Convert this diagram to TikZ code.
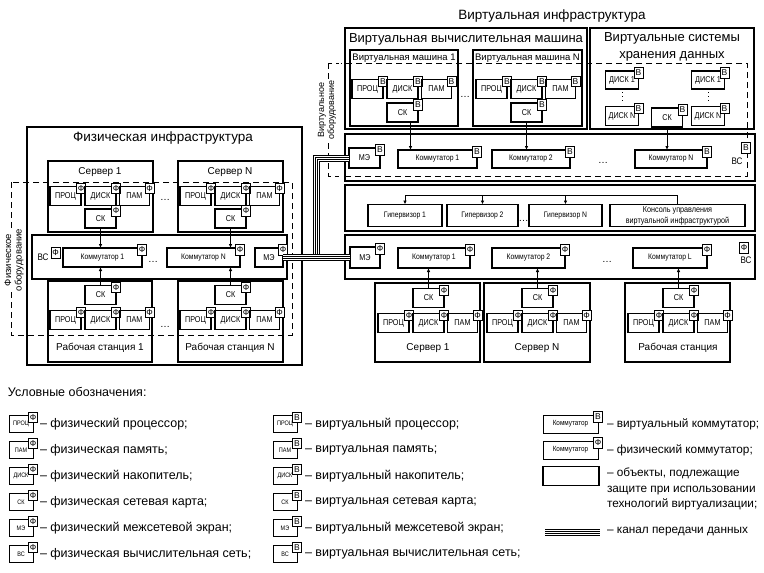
\documentclass[tikz,border=0pt]{standalone}
\usepackage{fontspec}
\setmainfont{Liberation Sans}
\newfontfamily\narr[FakeStretch=0.85]{Liberation Sans}
\usetikzlibrary{arrows.meta}
\tikzset{
  every node/.style={inner sep=0pt,outer sep=0pt},
  outerbox/.style={draw,line width=1.2pt},
  dblbox/.style={draw,line width=0.8pt,double,double distance=1.2pt},
  bigbox/.style={draw,line width=1.5pt},
  srvbox/.style={draw,line width=1.6pt},
  panelbox/.style={draw,line width=1.6pt},
  cbox/.style={draw,line width=1.2pt,font=\narr\fontsize{8.5}{9}\selectfont},
  cmbox/.style={draw,line width=1.2pt,font=\narr\fontsize{8}{10}\selectfont,align=center},
  lbox/.style={draw,line width=1pt,font=\narr\fontsize{6.5}{7}\selectfont},
  lcbox/.style={draw,line width=1pt,font=\narr\fontsize{7.5}{8}\selectfont},
  badge/.style={draw,line width=1pt,fill=white,minimum width=9pt,minimum height=10.5pt,font=\fontsize{8.5}{8.5}\selectfont},
  title/.style={font=\fontsize{13.5}{16}\selectfont},
  subtitle/.style={font=\fontsize{13}{17}\selectfont,align=center},
  lbl/.style={font=\fontsize{10}{11}\selectfont},
  vmlbl/.style={font=\fontsize{9.5}{11}\selectfont},
  sidelbl/.style={font=\fontsize{9.5}{10.5}\selectfont,align=center,rotate=90,fill=white,inner sep=1pt},
  dots/.style={font=\fontsize{10}{10}\selectfont},
  vslbl/.style={font=\narr\fontsize{9.5}{10}\selectfont},
  dashbox/.style={draw,line width=1pt,dash pattern=on 6pt off 4pt},
  arr/.style={draw,line width=1pt,-{Latex[length=4pt,width=3.5pt]}},
  conn/.style={draw,line width=1pt},
  chan/.style={draw,line width=7pt,postaction={draw=white,line width=5pt},postaction={draw=black,line width=3pt},postaction={draw=white,line width=1pt}},
  legtext/.style={anchor=west,font=\fontsize{12.5}{15.5}\selectfont,align=left},
  legtextr/.style={anchor=west,font=\fontsize{11.8}{15.5}\selectfont,align=left},
}
% component: [style] name, cx, cy, w, h, label, badge
\newcommand\cmpx[8][cbox]{%
  \node[#1,minimum width=#5pt,minimum height=#6pt] (#2) at (#3,#4) {#7};
  \node[badge] (#2b) at ([yshift=-2pt]#2.north east) {#8};}
% triad: prefix, x0, cy, badge
\newcommand\triadx[4]{%
  \cmpx{#1p}{#2+15.5}{#3}{31}{19}{ПРОЦ}{#4}
  \cmpx{#1d}{#2+50.5}{#3}{31}{19}{ДИСК}{#4}
  \cmpx{#1m}{#2+84.5}{#3}{30}{19}{ПАМ}{#4}}
\begin{document}
\begin{tikzpicture}[x=1pt,y=-1pt]
\useasboundingbox (0,0) rectangle (764,573);

% ================= LEFT: physical infrastructure
\draw[dashbox] (11,182) rectangle (292,335);
\node[sidelbl] (plbl) at (14,260) {Физическое\\оборудование};
\draw[outerbox] (27,127) rectangle (302,365);
\node[title] (ltitle) at (163,138) {Физическая инфраструктура};

\draw[srvbox] (48,161) rectangle (153,232);
\node[lbl] (ls1l) at (100,172) {Сервер 1};
\triadx{ls1}{50}{196}{Ф}
\cmpx{ls1s}{100.5}{218.5}{31}{19}{СК}{Ф}

\draw[srvbox] (178,161) rectangle (283,232);
\node[lbl] (ls2l) at (230,172) {Сервер N};
\triadx{ls2}{180}{196}{Ф}
\cmpx{ls2s}{230.5}{218.5}{31}{19}{СК}{Ф}
\node[dots] (ldots1) at (165,200) {…};

\draw[panelbox] (32,235) rectangle (287,279);
\node[vslbl] (lvs) at (43,257.5) {ВС};
\node[badge] (lvsb) at (55.5,253) {Ф};
\cmpx[cmbox]{lc1}{102.5}{257.5}{79}{19}{Коммутатор 1}{Ф}
\node[dots] (ldots2) at (153,262) {…};
\cmpx[cmbox]{lcn}{203.5}{257.5}{73}{19}{Коммутатор N}{Ф}
\cmpx{lme}{269}{257.5}{28}{19}{МЭ}{Ф}

\draw[srvbox] (48,281) rectangle (152,362);
\node[lbl] (lw1l) at (100,348) {Рабочая станция 1};
\cmpx{lw1s}{100.5}{295}{31}{19}{СК}{Ф}
\triadx{lw1}{50}{320}{Ф}

\draw[srvbox] (178,281) rectangle (283,362);
\node[lbl] (lw2l) at (230,348) {Рабочая станция N};
\cmpx{lw2s}{230.5}{295}{31}{19}{СК}{Ф}
\triadx{lw2}{180}{320}{Ф}
\node[dots] (ldots3) at (165,327) {…};

\draw[arr] (ls1s.south) -- (ls1s.south |- lc1.north);
\draw[arr] (ls2s.south) -- (ls2s.south |- lcn.north);
\draw[arr] (lw1s.north) -- (lw1s.north |- lc1.south);
\draw[arr] (lw2s.north) -- (lw2s.north |- lcn.south);

% ================= RIGHT: virtual infrastructure
\draw[dashbox] (328,63) rectangle (747,176);
\node[sidelbl,font=\fontsize{9}{10}\selectfont] (vlbl) at (327,110) {Виртуальное\\оборудование};
\draw[dblbox] (340,2) rectangle (761,366);
\node[title] (rtitle) at (552,16) {Виртуальная инфраструктура};

\draw[bigbox] (345,28) rectangle (587,129);
\node[subtitle] (vmt) at (466,39) {Виртуальная вычислительная машина};
\draw[srvbox] (350,50) rectangle (458,126);
\node[vmlbl] (vm1l) at (404,58) {Виртуальная машина 1};
\draw[srvbox] (473,50) rectangle (582,126);
\node[vmlbl] (vmnl) at (527.5,58) {Виртуальная машина N};
\triadx{vm1}{352}{89}{В}
\cmpx{vm1s}{402.5}{112.5}{31}{19}{СК}{В}
\triadx{vmn}{476}{89}{В}
\cmpx{vmns}{526.5}{112.5}{31}{19}{СК}{В}
\node[dots] (vdots1) at (465,97) {…};

\draw[bigbox] (590,28) rectangle (754,129);
\node[subtitle] (stt) at (672,47) {Виртуальные системы\\хранения данных};
\cmpx{sd1}{622}{80}{33}{18}{ДИСК 1}{В}
\cmpx{sdn}{622}{116}{33}{19}{ДИСК N}{В}
\cmpx{sd2}{708}{80}{33}{18}{ДИСК 1}{В}
\cmpx{sd2n}{708}{116}{33}{19}{ДИСК N}{В}
\cmpx{ssk}{667}{117.5}{31}{19}{СК}{В}
\draw[line width=1pt,dash pattern=on 1pt off 3pt] ([yshift=-3pt]sd1.south) -- ([yshift=3pt]sdn.north);
\draw[line width=1pt,dash pattern=on 1pt off 3pt] ([yshift=-3pt]sd2.south) -- ([yshift=3pt]sd2n.north);

% virtual switches panel
\draw[panelbox] (345,134) rectangle (755,181);
\cmpx{vme}{364.5}{158}{31}{20}{МЭ}{В}
\cmpx[cmbox]{vc1}{437.5}{159}{79}{18}{Коммутатор 1}{В}
\cmpx[cmbox]{vc2}{531}{159}{78}{18}{Коммутатор 2}{В}
\node[dots] (vdots2) at (603,163) {…};
\cmpx[cmbox]{vcn}{671}{159}{72}{18}{Коммутатор N}{В}
\node[vslbl] (vvs) at (737,161) {ВС};
\node[badge] (vvsb) at (746,148) {В};

\draw[arr] ([xshift=8pt]vm1s.south) -- ([xshift=8pt]vm1s.south |- vc1.north);
\draw[arr] (vmns.south) -- (vmns.south |- vc2.north);
\draw[arr] (ssk.south) -- (ssk.south |- vcn.north);

% hypervisor panel
\draw[panelbox] (345,185) rectangle (755,231);
\node[cmbox,minimum width=74pt,minimum height=22pt] (h1) at (405,215.5) {Гипервизор 1};
\node[cmbox,minimum width=71pt,minimum height=22pt] (h2) at (482.5,215.5) {Гипервизор 2};
\node[cmbox,minimum width=73pt,minimum height=22pt] (hn) at (565.5,215.5) {Гипервизор N};
\node[cmbox,minimum width=135pt,minimum height=22pt,font=\narr\fontsize{8.5}{11}\selectfont] (hc) at (677.5,215.5) {Консоль управления\\виртуальной инфраструктурой};
\node[dots] (hdots) at (523.5,221) {…};
\coordinate (hbus) at (405,195);
\draw[conn] (hc.north) |- (hbus);
\draw[arr] (hbus) -- (h1.north);
\draw[arr] (h2.north |- hbus) -- (h2.north);
\draw[arr] (hn.north |- hbus) -- (hn.north);

% physical switches panel
\draw[panelbox] (345,235) rectangle (755,279);
\cmpx{pme}{365}{257.5}{30}{21}{МЭ}{Ф}
\cmpx[cmbox]{pc1}{434}{258}{72}{20}{Коммутатор 1}{Ф}
\cmpx[cmbox]{pc2}{528.5}{258}{73}{20}{Коммутатор 2}{Ф}
\node[dots] (pdots) at (607,262) {…};
\cmpx[cmbox]{pcl}{670}{258}{74}{20}{Коммутатор L}{Ф}
\node[vslbl] (pvs) at (746,260) {ВС};
\node[badge] (pvsb) at (744,248) {Ф};

% physical hosts
\draw[srvbox] (375,283) rectangle (480,362);
\node[lbl] (r1l) at (428,348) {Сервер 1};
\cmpx{r1s}{428.5}{298}{31}{19}{СК}{Ф}
\triadx{r1}{378}{323}{Ф}
\draw[srvbox] (484,283) rectangle (590,362);
\node[lbl] (r2l) at (537,348) {Сервер N};
\cmpx{r2s}{537.5}{298}{31}{19}{СК}{Ф}
\triadx{r2}{487}{323}{Ф}
\draw[srvbox] (625,283) rectangle (730,362);
\node[lbl] (r3l) at (678,348) {Рабочая станция};
\cmpx{r3s}{678.5}{298}{31}{19}{СК}{Ф}
\triadx{r3}{628}{323}{Ф}
\draw[arr] (r1s.north) -- (r1s.north |- pc1.south);
\draw[arr] (r2s.north) -- (r2s.north |- pc2.south);
\draw[arr] (r3s.north) -- (r3s.north |- pcl.south);

% data channel
\draw[chan] (lme.east) -- (pme.west);
\coordinate (cj) at (316,254);
\draw[chan] (cj) |- (vme.west);

% ================= LEGEND
\node[anchor=west,font=\fontsize{12.5}{14}\selectfont] (legt) at (8,392) {Условные обозначения:};
\foreach \y/\a/\t/\u in {424/ПРОЦ/физический процессор/виртуальный процессор,
  450/ПАМ/физическая память/виртуальная память,
  476/ДИСК/физический накопитель/виртуальный накопитель,
  502/СК/физическая сетевая карта/виртуальная сетевая карта,
  528/МЭ/физический межсетевой экран/виртуальный межсетевой экран,
  554/ВС/физическая вычислительная сеть/виртуальная вычислительная сеть}{
  \cmpx[lbox]{lf\y}{21}{\y}{24}{17}{\a}{Ф}
  \node[legtext] (lft\y) at (40,\y) {– \t;};
  \cmpx[lbox]{lv\y}{285}{\y}{24}{17}{\a}{В}
  \node[legtext] (lvt\y) at (305,\y) {– \u;};
}
\cmpx[lcbox]{lk1}{570.5}{424}{55}{18}{Коммутатор}{В}
\node[legtextr] (lk1t) at (607,424) {– виртуальный коммутатор;};
\cmpx[lcbox]{lk2}{570.5}{450}{55}{18}{Коммутатор}{Ф}
\node[legtextr] (lk2t) at (607,450) {– физический коммутатор;};
\node[draw,line width=1.2pt,minimum width=56pt,minimum height=19pt] (lobj) at (571,476) {};
\node[legtextr,anchor=north west] (lobjt) at (607,468) {– объекты, подлежащие\\защите при использовании\\технологий виртуализации;};
\coordinate (lch1) at (545,532);
\coordinate (lch2) at (600,532);
\draw[chan] (lch1) -- (lch2);
\node[legtextr] (lcht) at (607,532) {– канал передачи данных};
\end{tikzpicture}
\end{document}
